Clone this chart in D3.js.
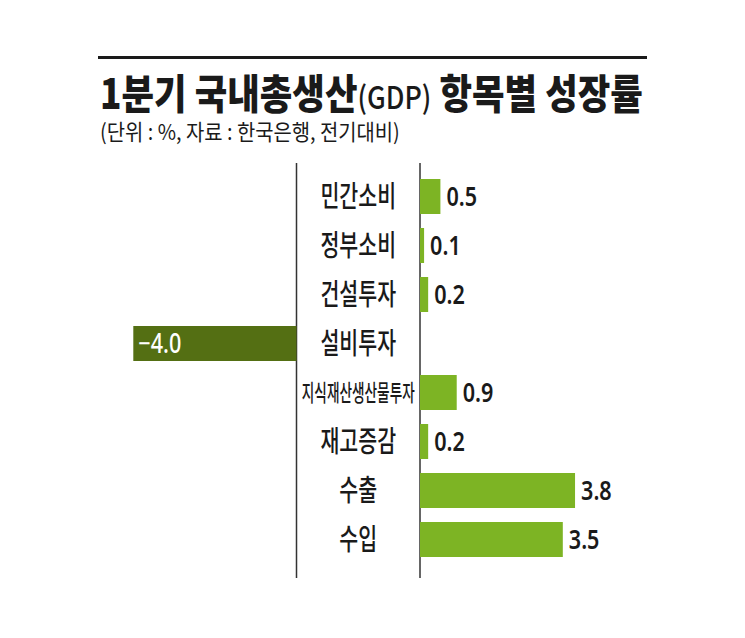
<!DOCTYPE html>
<html>
<head>
<meta charset="utf-8">
<script src="https://cdn.jsdelivr.net/npm/d3@7/dist/d3.min.js"></script>
<style>
  html, body { margin: 0; padding: 0; background: #fff; }
  svg { display: block; }
</style>
</head>
<body>
<svg id="chart" width="745" height="638"></svg>
<script>
// ---- data ----
const categories = ["민간소비", "정부소비", "건설투자", "설비투자", "지식재산생산물투자", "재고증감", "수출", "수입"];
const values = [0.5, 0.1, 0.2, -4.0, 0.9, 0.2, 3.8, 3.5];
const titleParts = ["1분기 국내총생산", "(GDP)", " 항목별 성장률"];
const subtitle = "(단위 : %, 자료 : 한국은행, 전기대비)";

// ---- layout ----
const svg = d3.select("#chart");
const KR = "'Noto Sans CJK KR', 'Noto Sans', sans-serif";
const NUM = "'Noto Sans', 'Noto Sans CJK KR', sans-serif";
const posColor = "#7db424";
const negColor = "#546f13";
const ink = "#1a1a1a";

const leftLineX = 296.5;
const rightLineX = 420;
const unit = 40.8;

const xPos = d3.scaleLinear().domain([0, 4]).range([rightLineX, rightLineX + 4 * unit]);
const xNeg = d3.scaleLinear().domain([-4, 0]).range([leftLineX - 4 * unit, leftLineX]);
const y = d3.scaleBand().domain(categories).range([165, 571]).paddingInner(0.2857).paddingOuter(0.2857);

const fmt = v => d3.format(".1f")(v);

// top rule
svg.append("line")
  .attr("x1", 98).attr("x2", 647)
  .attr("y1", 57.5).attr("y2", 57.5)
  .attr("stroke", ink).attr("stroke-width", 3);

// title: pieces laid out at natural width inside a horizontally condensed group
const titleStyles = [
  { size: 41, weight: 900 },
  { size: 31, weight: 500 },
  { size: 41, weight: 900 }
];
const titleG = svg.append("g");
const titleTexts = titleParts.map((t, i) => titleG.append("text")
  .attr("y", 0)
  .attr("font-family", KR)
  .attr("font-size", titleStyles[i].size)
  .attr("font-weight", titleStyles[i].weight)
  .attr("fill", ink)
  .style("white-space", "pre")
  .text(t));
const naturalW = titleTexts.map(t => t.node().getComputedTextLength());
let cx = 0;
titleTexts.forEach((t, i) => { t.attr("x", cx); cx += naturalW[i]; });
const tk = 543 / cx;
titleG.attr("transform", `translate(100,109) scale(${tk},1)`);

// subtitle
const sub = svg.append("text")
  .attr("x", 0).attr("y", 0)
  .attr("font-family", KR)
  .attr("font-size", 22)
  .attr("fill", ink)
  .text(subtitle);
const subK = 300 / sub.node().getComputedTextLength();
sub.attr("transform", `translate(100,140) scale(${subK},1)`);

// vertical lines
[leftLineX, rightLineX].forEach(x => {
  svg.append("line")
    .attr("x1", x).attr("x2", x)
    .attr("y1", 163).attr("y2", 578)
    .attr("stroke", "#333").attr("stroke-width", 1.5);
});

const rows = categories.map((c, i) => ({ cat: c, v: values[i] }));

// bars
svg.append("g").selectAll("rect")
  .data(rows)
  .join("rect")
  .attr("x", d => d.v >= 0 ? xPos(0) : xNeg(d.v))
  .attr("width", d => d.v >= 0 ? xPos(d.v) - xPos(0) : xNeg(0) - xNeg(d.v))
  .attr("y", d => y(d.cat))
  .attr("height", y.bandwidth())
  .attr("fill", d => d.v >= 0 ? posColor : negColor);

// category labels (condensed by transform)
const labelX = (leftLineX + rightLineX) / 2;
svg.append("g").selectAll("text")
  .data(rows)
  .join("text")
  .attr("x", 0).attr("y", 0)
  .attr("dy", "0.36em")
  .attr("text-anchor", "middle")
  .attr("font-family", KR)
  .attr("font-size", 29)
  .attr("font-weight", 500)
  .attr("fill", ink)
  .text(d => d.cat)
  .each(function (d) {
    let w = this.getComputedTextLength();
    let k = 0.71;
    if (w * k > 114) {
      this.setAttribute("font-size", 23);
      this.setAttribute("dy", "0.38em");
      w = this.getComputedTextLength();
      k = 113 / w;
    }
    this.setAttribute("transform",
      `translate(${labelX},${y(d.cat) + y.bandwidth() / 2}) scale(${k},1)`);
  });

// value labels
svg.append("g").selectAll("text")
  .data(rows)
  .join("text")
  .attr("x", 0).attr("y", 0)
  .attr("dy", "0.36em")
  .attr("text-anchor", "start")
  .attr("font-family", NUM)
  .attr("font-size", 27)
  .attr("font-weight", d => d.v >= 0 ? 600 : 500)
  .attr("fill", d => d.v >= 0 ? ink : "#fff")
  .text(d => fmt(d.v))
  .attr("transform", d => {
    const x0 = d.v >= 0 ? xPos(d.v) + 6 : xNeg(d.v) + 5;
    return `translate(${x0},${y(d.cat) + y.bandwidth() / 2}) scale(0.8,1)`;
  });
</script>
</body>
</html>
